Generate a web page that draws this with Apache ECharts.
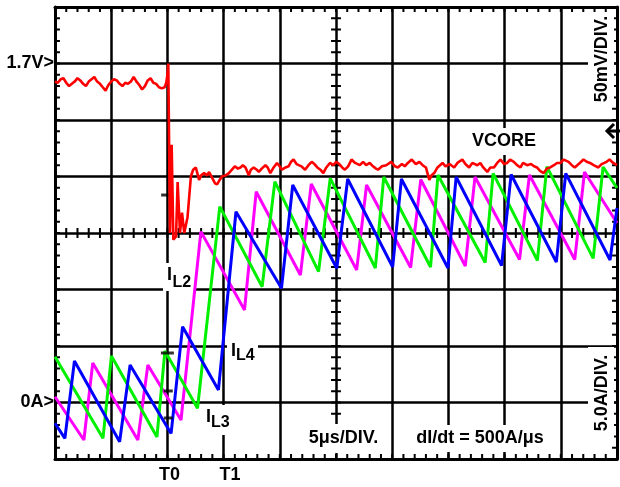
<!DOCTYPE html>
<html><head><meta charset="utf-8">
<script src="https://cdn.jsdelivr.net/npm/echarts@6/dist/echarts.min.js"></script>
<style>html,body{margin:0;padding:0;background:#fff}#c{width:620px;height:487px}</style>
</head><body><div id="c"></div>
<script>
// ---- axis ranges (x in microseconds, VCORE in mV, inductor currents in A) ----
const timeRange = [0, 50, 5];
const voltRange = [1350, 1750, 50];
const currRange = [-5, 35, 5];
const minorSplit = 5;
// ---- tick labels ----
const xTickLabels = {10: 'T0', 15: 'T1'};
const voltTickLabels = {1700: '1.7V>'};
const currTickLabels = {0: '0A>'};

// ---- VCORE trace [t(us), mV] ----
const vcore = [[0,1684],[0.25,1683],[0.5,1686],[0.75,1687],[1,1683],[1.25,1680],[1.5,1682],[1.75,1684],[2,1687],[2.25,1685],[2.5,1682],[2.75,1680],[3,1684],[3.25,1686],[3.5,1688],[3.75,1684],[4,1682],[4.25,1679],[4.5,1676],[4.75,1681],[5,1684],[5.25,1686],[5.5,1685],[5.75,1682],[6,1680],[6.25,1683],[6.5,1682],[6.75,1684],[7,1688],[7.25,1684],[7.5,1681],[7.75,1677],[8,1680],[8.25,1685],[8.5,1687],[8.75,1683],[9,1682],[9.25,1679],[9.5,1678],[9.75,1679],[9.9,1683],[10,1690],[10.08,1700],
[10.23,1550],[10.38,1628],[10.53,1544],[10.77,1547],[10.91,1595],[11.12,1550],[11.3,1568],[11.5,1550],[11.79,1564],[12.09,1600],[12.29,1606],[12.53,1608],[12.82,1597],[13,1601],[13.27,1603],[13.53,1601],[13.71,1604],[13.97,1599],[14.24,1594],[14.42,1593],[14.59,1596],[14.85,1600],[15.18,1601],[15.47,1603],[15.74,1606],[16,1609],[16.27,1607],[16.5,1608],[16.71,1610],[16.95,1608],[17.24,1601],[17.42,1606],[17.68,1608],[17.95,1606],[18.13,1604],[18.39,1607],[18.72,1610],[18.92,1608],[19.16,1603],[19.45,1608],[19.75,1612],[19.98,1609],[20.19,1606],[20.51,1608],[20.78,1609],[21,1613],[21.22,1615],[21.49,1611],[21.66,1612],[21.93,1609],[22.25,1606],[22.55,1610],[22.84,1613],[23.08,1611],[23.34,1608],[23.61,1606],[23.87,1603],[24.14,1608],[24.46,1612],[24.76,1610],[25.02,1613],[25.29,1611],[25.55,1608],[25.79,1606],[26.08,1609],[26.38,1615],[26.7,1612],[27.12,1610],[27.41,1613],[27.68,1610],[28,1612],[28.29,1609],[28.56,1607],[28.74,1606],[29.09,1609],[29.47,1610],[29.91,1613],[30.24,1609],[30.5,1608],[30.86,1611],[31.12,1609],[31.39,1612],[31.74,1615],[32.1,1611],[32.42,1613],[32.71,1610],[33,1608],[33.3,1597],[33.5,1601],[33.74,1603],[34.03,1608],[34.48,1612],[34.74,1609],[35.1,1611],[35.51,1608],[35.8,1612],[36.24,1615],[36.51,1611],[36.84,1608],[37.13,1612],[37.57,1610],[37.84,1612],[38.1,1608],[38.46,1604],[38.73,1608],[39.05,1608],[39.34,1612],[39.63,1615],[39.96,1611],[40.23,1612],[40.49,1615],[40.82,1613],[41.11,1610],[41.41,1608],[41.64,1612],[42,1610],[42.35,1611],[42.62,1609],[42.88,1608],[43.15,1605],[43.48,1603],[43.77,1607],[44.06,1608],[44.39,1610],[44.66,1612],[44.95,1612],[45.27,1615],[45.69,1613],[45.98,1610],[46.24,1608],[46.69,1612],[47.02,1615],[47.3,1613],[47.6,1612],[47.92,1610],[48.34,1608],[48.63,1611],[49.07,1613],[49.34,1615],[49.66,1612],[50,1610]];

// ---- phase currents [t(us), A] ----
const iL2 = [[0,0.51],[2.57,-3.32],[3.36,3.50],[7.37,-3.32],[8.26,3.32],[11.21,-1.55],[12.98,15.12],[16.86,8.19],[17.90,18.65],[21.83,11.28],[22.80,19.34],[26.84,11.73],[27.72,19.25],[31.64,11.95],[32.54,19.73],[36.50,12.08],[37.37,19.96],[41.33,12.65],[42.21,20.13],[46.24,12.65],[47.11,20.40],[50,15.88]];
const iL3 = [[0,4.05],[4.27,-3.17],[5.02,4.12],[9.07,-3.05],[9.78,4.56],[12.68,-0.51],[14.66,17.33],[18.43,10.25],[19.56,19.54],[23.45,11.58],[24.49,19.84],[28.50,11.90],[29.25,19.96],[33.41,11.99],[34.07,20.13],[38.27,12.39],[38.98,20.28],[42.92,12.57],[43.76,20.88],[47.88,12.76],[48.76,20.84],[50,18.98]];
const iL4 = [[0,-1.84],[0.88,-3.17],[1.73,3.67],[5.75,-3.47],[6.68,3.32],[10.33,-2.74],[11.35,6.71],[14.54,1.11],[16.10,16.88],[20.15,10.11],[21.15,19.25],[25.07,11.88],[26.04,19.78],[30.04,11.99],[30.82,19.78],[34.96,11.90],[35.69,19.96],[39.73,12.12],[40.58,20.18],[44.60,12.43],[45.44,20.28],[49.38,12.61],[50,17.21]];

// ---- scope level markers on the T0 line [t(us), A] ----
const levelMarkers = [[10,4.38],[10.08,1.02],[10.08,-1.37]];
const triggerMarker = [[9.8,18.36]];

const FONT = '"Liberation Sans", Arial, Helvetica, sans-serif';
const BLACK = '#000';
// graticule tick length expressed in axis units (about 5 px)
const TICK_T = 0.44, TICK_I = 0.44;

function border() { return {show: true, onZero: false, lineStyle: {color: BLACK, width: 3}}; }
function lbl(extra) { return Object.assign({fontSize: 18, fontWeight: 'bold', color: BLACK, fontFamily: FONT}, extra || {}); }

// oscilloscope graticule minor ticks (borders + centre cross) as broken line segments on the axes
function graticuleSegments() {
  const d = [];
  const tMid = (timeRange[0] + timeRange[1]) / 2, iMid = (currRange[0] + currRange[1]) / 2;
  const tStep = timeRange[2] / minorSplit, iStep = currRange[2] / minorSplit;
  const nT = Math.round((timeRange[1] - timeRange[0]) / tStep);
  const nI = Math.round((currRange[1] - currRange[0]) / iStep);
  const seg = (a, b) => { d.push(a, b, [a[0], null]); };
  for (let k = 0; k <= nT; k++) {
    const t = timeRange[0] + k * tStep;
    seg([t, currRange[0]], [t, currRange[0] + TICK_I]);
    seg([t, currRange[1]], [t, currRange[1] - TICK_I]);
    seg([t, iMid - TICK_I], [t, iMid + TICK_I]);
  }
  for (let k = 0; k <= nI; k++) {
    const v = currRange[0] + k * iStep;
    seg([timeRange[0], v], [timeRange[0] + TICK_T, v]);
    seg([timeRange[1], v], [timeRange[1] - TICK_T, v]);
    seg([tMid - TICK_T, v], [tMid + TICK_T, v]);
  }
  return d;
}

const chart = echarts.init(document.getElementById('c'));
const option = {
  animation: false,
  grid: {left: 55, right: 0, top: 7, bottom: 28},
  xAxis: [
    {type: 'value', min: timeRange[0], max: timeRange[1], interval: timeRange[2], position: 'bottom',
     axisLine: border(), axisTick: {show: false},
     splitLine: {show: true, lineStyle: {color: BLACK, width: 2.5}},
     axisLabel: lbl({margin: 7,
       formatter: v => xTickLabels[v] ? '{' + (v === 10 ? 'a' : 'b') + '|' + xTickLabels[v] + '}' : '',
       rich: {a: lbl({padding: [0, 0, 0, 4]}), b: lbl({padding: [0, 0, 0, 13]})}})},
    {type: 'value', min: timeRange[0], max: timeRange[1], interval: timeRange[2], position: 'top',
     axisLine: border(), axisTick: {show: false}, splitLine: {show: false}, axisLabel: {show: false}}
  ],
  yAxis: [
    {type: 'value', min: voltRange[0], max: voltRange[1], interval: voltRange[2], position: 'left',
     axisLine: {show: false, onZero: false}, axisTick: {show: false}, splitLine: {show: false},
     axisLabel: lbl({margin: 1, formatter: v => voltTickLabels[v] || ''})},
    {type: 'value', min: currRange[0], max: currRange[1], interval: currRange[2], position: 'left',
     axisLine: border(), axisTick: {show: false},
     splitLine: {show: true, lineStyle: {color: BLACK, width: 2.5}},
     axisLabel: lbl({margin: 1, formatter: v => currTickLabels[v] || ''})},
    {type: 'value', min: currRange[0], max: currRange[1], interval: currRange[2], position: 'right',
     axisLine: border(), axisTick: {show: false}, splitLine: {show: false}, axisLabel: {show: false}}
  ],
  series: [
    {name: 'graticule', type: 'line', xAxisIndex: 0, yAxisIndex: 1, data: graticuleSegments(),
     showSymbol: false, connectNulls: false, silent: true, z: 2.9,
     lineStyle: {color: BLACK, width: 2}, emphasis: {disabled: true}},
    {name: 'IL2', type: 'line', xAxisIndex: 0, yAxisIndex: 1, data: iL2, showSymbol: false, z: 3,
     lineStyle: {color: '#ff00ff', width: 3}},
    {name: 'IL3', type: 'line', xAxisIndex: 0, yAxisIndex: 1, data: iL3, showSymbol: false, z: 3,
     lineStyle: {color: '#00f000', width: 3}},
    {name: 'IL4', type: 'line', xAxisIndex: 0, yAxisIndex: 1, data: iL4, showSymbol: false, z: 3,
     lineStyle: {color: '#0000ff', width: 3}},
    {name: 'VCORE', type: 'line', xAxisIndex: 0, yAxisIndex: 0, data: vcore, showSymbol: false, z: 4,
     lineStyle: {color: '#ff0000', width: 2.6}},
    {name: 'levels', type: 'scatter', xAxisIndex: 0, yAxisIndex: 1, z: 3,
     data: levelMarkers.map((p, i) => ({value: p, symbolSize: i === 0 ? [13, 3] : [9, 3]})),
     symbol: 'rect', itemStyle: {color: BLACK}},
    {name: 'trigger', type: 'scatter', xAxisIndex: 0, yAxisIndex: 1, z: 3,
     data: triggerMarker, symbol: 'rect', symbolSize: [8, 3], itemStyle: {color: BLACK}}
  ],
  graphic: [
    {type: 'rect', z: 2.95, shape: {x: 468, y: 128, width: 72, height: 27}, style: {fill: '#fff'}},
    {type: 'rect', z: 2.95, shape: {x: 163, y: 263, width: 31, height: 28}, style: {fill: '#fff'}},
    {type: 'rect', z: 2.95, shape: {x: 227, y: 338, width: 31, height: 30}, style: {fill: '#fff'}},
    {type: 'rect', z: 2.95, shape: {x: 204, y: 405, width: 29, height: 30}, style: {fill: '#fff'}},
    {type: 'rect', z: 2.95, shape: {x: 303, y: 424, width: 81, height: 29}, style: {fill: '#fff'}},
    {type: 'rect', z: 2.95, shape: {x: 411, y: 425, width: 139, height: 27}, style: {fill: '#fff'}},
    {type: 'rect', z: 2.95, shape: {x: 588, y: 12, width: 26, height: 94}, style: {fill: '#fff'}},
    {type: 'rect', z: 2.95, shape: {x: 588, y: 347, width: 26, height: 93}, style: {fill: '#fff'}},
    {type: 'text', z: 10, x: 504, y: 141.5, style: {text: 'VCORE', font: 'bold 18px ' + FONT, fill: BLACK, align: 'center', verticalAlign: 'middle'}},
    {type: 'text', z: 10, x: 343.5, y: 438, style: {text: '5\u03bcs/DIV.', font: 'bold 18px ' + FONT, fill: BLACK, align: 'center', verticalAlign: 'middle'}},
    {type: 'text', z: 10, x: 480, y: 438, style: {text: 'dI/dt = 500A/\u03bcs', font: 'bold 18px ' + FONT, fill: BLACK, align: 'center', verticalAlign: 'middle'}},
    {type: 'text', z: 10, x: 602.5, y: 59, rotation: Math.PI / 2, style: {text: '50mV/DIV.', font: 'bold 18px ' + FONT, fill: BLACK, align: 'center', verticalAlign: 'middle'}},
    {type: 'text', z: 10, x: 602.5, y: 393, rotation: Math.PI / 2, style: {text: '5.0A/DIV.', font: 'bold 18px ' + FONT, fill: BLACK, align: 'center', verticalAlign: 'middle'}},
    {type: 'text', z: 10, x: 167, y: 275.5, style: {text: 'I', font: 'bold 18px ' + FONT, fill: BLACK, align: 'left', verticalAlign: 'middle'}},
    {type: 'text', z: 10, x: 172.5, y: 282.5, style: {text: 'L2', font: 'bold 16px ' + FONT, fill: BLACK, align: 'left', verticalAlign: 'middle'}},
    {type: 'text', z: 10, x: 231, y: 351, style: {text: 'I', font: 'bold 18px ' + FONT, fill: BLACK, align: 'left', verticalAlign: 'middle'}},
    {type: 'text', z: 10, x: 236, y: 356, style: {text: 'L4', font: 'bold 16px ' + FONT, fill: BLACK, align: 'left', verticalAlign: 'middle'}},
    {type: 'text', z: 10, x: 206, y: 417.5, style: {text: 'I', font: 'bold 18px ' + FONT, fill: BLACK, align: 'left', verticalAlign: 'middle'}},
    {type: 'text', z: 10, x: 211, y: 422.5, style: {text: 'L3', font: 'bold 16px ' + FONT, fill: BLACK, align: 'left', verticalAlign: 'middle'}},
    {type: 'polyline', z: 10, shape: {points: [[614, 124], [607, 131], [614, 138]]}, style: {stroke: BLACK, lineWidth: 3, fill: null}},
    {type: 'line', z: 10, shape: {x1: 607, y1: 131, x2: 620, y2: 131}, style: {stroke: BLACK, lineWidth: 3}}
  ]
};
chart.setOption(option);
</script>
</body></html>
